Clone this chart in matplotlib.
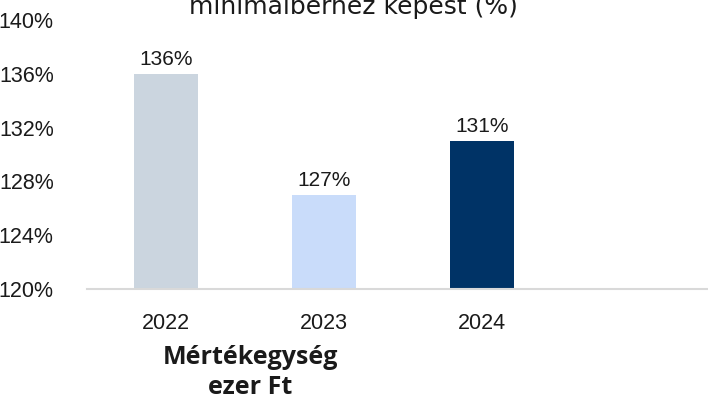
import matplotlib.pyplot as plt

# data
years = ['2022', '2023', '2024', '']
values = [136, 127, 131, None]
bar_colors = ['#CBD5DF', '#C9DCFA', '#003366']
yticks = [120, 124, 128, 132, 136, 140]

fig = plt.figure(figsize=(7.08, 4.01), dpi=100)
ax = fig.add_axes([87 / 708, (401 - 289) / 401, 632 / 708, 269 / 401])

x = list(range(len(years)))
shown = [v for v in values if v is not None]
bars = ax.bar(x[:len(shown)], [v - 120 for v in shown], bottom=120,
              width=64 / 158, color=bar_colors)

for b, v in zip(bars, shown):
    ax.text(b.get_x() + b.get_width() / 2, v + 0.35, f'{v}%',
            ha='center', va='bottom', fontsize=15, family='Liberation Sans',
            color='#1a1a1a')

ax.set_xlim(-0.5, len(years) - 0.5)
ax.set_ylim(120, 140)
ax.set_yticks(yticks)
ax.set_yticklabels([f'{t}%' for t in yticks], fontsize=15.5,
                   family='Liberation Sans', color='#1a1a1a')
ax.set_xticks(x)
ax.set_xticklabels(years, fontsize=15.5, family='Liberation Sans', color='#1a1a1a')
ax.tick_params(axis='both', length=0)
ax.tick_params(axis='x', pad=17)
ax.tick_params(axis='y', pad=24)

for s in ['top', 'right', 'left']:
    ax.spines[s].set_visible(False)
ax.spines['bottom'].set_color('#D9D9D9')
ax.spines['bottom'].set_linewidth(1.5)

# title, partly cut off at the top as in the source image
fig.text(353 / 708, 1 - 14 / 401, 'minimálbérhez képest (%)', ha='center',
         va='baseline', fontsize=18, family='Liberation Sans Narrow',
         color='#1a1a1a')

fig.text(250 / 708, 1 - 357 / 401, 'Mértékegység', ha='center', va='center',
         fontsize=18, fontweight='bold', family='Open Sans', color='#1a1a1a')
fig.text(250 / 708, 1 - 388 / 401, 'ezer Ft', ha='center', va='center',
         fontsize=18, fontweight='bold', family='Open Sans', color='#1a1a1a')

fig.savefig('out.png', dpi=100)
